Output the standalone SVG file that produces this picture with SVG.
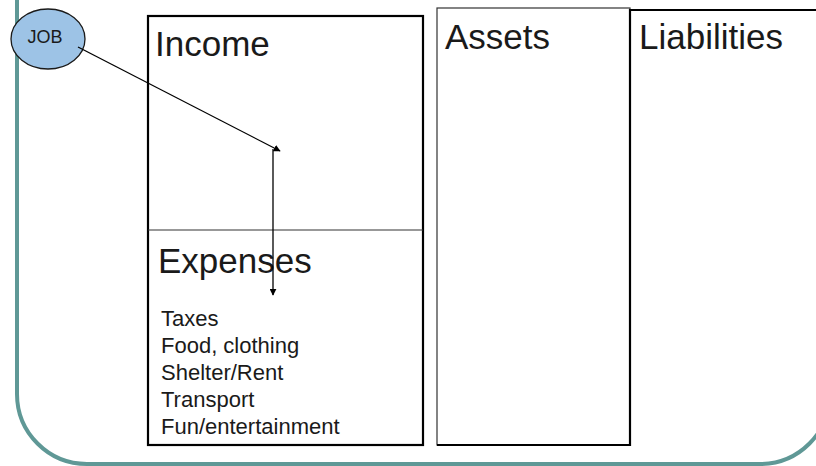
<svg xmlns="http://www.w3.org/2000/svg" width="816" height="466" viewBox="0 0 816 466">
  <style>
    .frame { fill: none; stroke: #5f9896; stroke-width: 4; }
    .box { fill: none; stroke: #000; stroke-width: 2.2; }
    .thin { fill: none; stroke: #333; stroke-width: 1.2; }
    .head { font-family: "Liberation Sans", Arial, sans-serif; font-size: 35px; fill: #1a1a1a; }
    .item { font-family: "Liberation Sans", Arial, sans-serif; font-size: 22px; fill: #1a1a1a; }
    .job { font-family: "Liberation Sans", Arial, sans-serif; font-size: 18px; fill: #1a1a1a; }
    .conn { fill: none; stroke: #000; stroke-width: 1.3; }
  </style>
  <defs>
    <marker id="arrow" viewBox="0 0 10 10" refX="9" refY="5" markerWidth="7" markerHeight="7" markerUnits="userSpaceOnUse" orient="auto">
      <path d="M0,0 L10,5 L0,10 Z" fill="#000"/>
    </marker>
  </defs>
  <rect width="816" height="466" fill="#fff"/>

  <!-- slide frame with rounded lower corners -->
  <path class="frame" d="M17,-10 V394 A70,70 0 0 0 87,464 H760 A70,70 0 0 0 830,394 V-10"/>

  <!-- income statement: income over expenses -->
  <g id="income-statement">
    <rect class="box" x="148" y="16" width="275" height="429"/>
    <line class="thin" x1="148" y1="230" x2="423" y2="230"/>
    <text class="head" x="155" y="56">Income</text>
    <text class="head" x="158" y="273">Expenses</text>
    <text class="item" x="161" y="326">Taxes</text>
    <text class="item" x="161" y="353">Food, clothing</text>
    <text class="item" x="161" y="380">Shelter/Rent</text>
    <text class="item" x="161" y="407">Transport</text>
    <text class="item" x="161" y="434">Fun/entertainment</text>
  </g>

  <!-- balance sheet: assets beside liabilities -->
  <g id="assets">
    <rect class="thin" x="437" y="8" width="193" height="437"/>
    <text class="head" x="445" y="49">Assets</text>
  </g>
  <g id="liabilities">
    <path class="box" d="M830,10 H630 V445 H437"/>
    <text class="head" x="639" y="49">Liabilities</text>
  </g>

  <g id="job">
    <ellipse cx="48" cy="39" rx="37" ry="30" fill="#9dc3e6" stroke="#1a1a1a" stroke-width="1.3"/>
    <text class="job" x="45" y="43" text-anchor="middle">JOB</text>
  </g>

  <g id="connectors">
    <line class="conn" x1="78" y1="47" x2="280" y2="151" marker-end="url(#arrow)"/>
    <line class="conn" x1="273" y1="149" x2="273" y2="295" marker-end="url(#arrow)"/>
  </g>
</svg>
